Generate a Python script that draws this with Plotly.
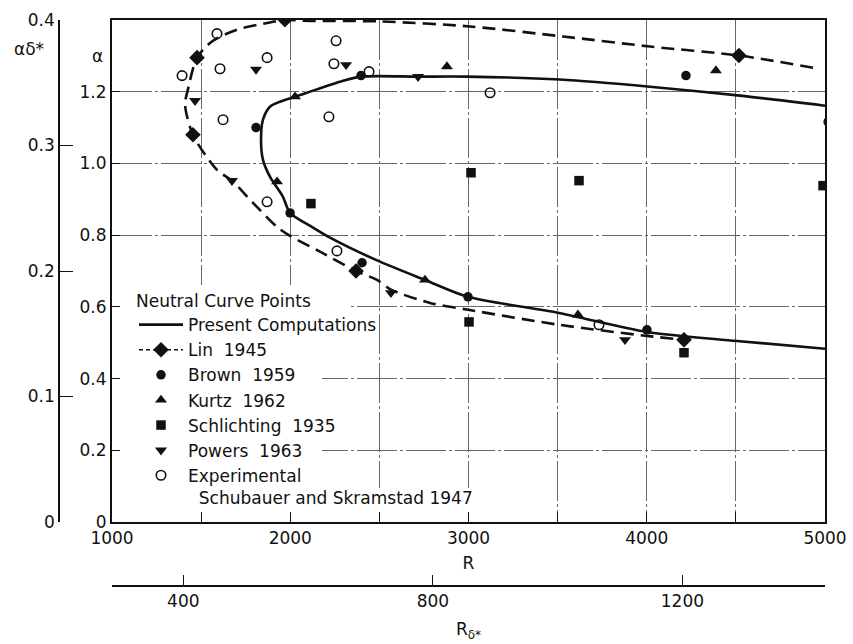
import plotly.graph_objects as go

# Ratio between the two Reynolds numbers / wavenumbers: R = 3.5 * R_delta*, alpha = 3.5 * alpha*delta*
SCALE = 3.5

# ---- Neutral curve, present computations (R, alpha), traced around the nose ----
present_R = [5000, 4506, 4001, 3508, 2997, 2756, 2503, 2223, 2128, 1999, 1959, 1886, 1847,
             1836, 1847, 1886, 1942, 2027, 2279, 2397, 2717, 2992, 3513, 4018, 4523, 5000]
present_alpha = [0.483, 0.505, 0.530, 0.583, 0.628, 0.675, 0.726, 0.793, 0.821, 0.862, 0.907,
                 0.963, 1.010, 1.066, 1.122, 1.158, 1.172, 1.186, 1.228, 1.242, 1.242, 1.242,
                 1.234, 1.214, 1.189, 1.161]

# ---- Lin (1945) neutral curve ----
lin_curve_R = [4933, 4517, 4018, 3530, 3008, 2503, 2066, 1970, 1886, 1701, 1561, 1477, 1426,
               1410, 1454, 1589, 1673, 1791, 1926, 1999, 2167, 2369, 2487, 2565, 2784, 2997,
               3508, 4001, 4209]
lin_curve_alpha = [1.267, 1.301, 1.326, 1.354, 1.382, 1.396, 1.398, 1.401, 1.393, 1.373, 1.340,
                   1.295, 1.206, 1.164, 1.080, 0.982, 0.952, 0.890, 0.823, 0.798, 0.754, 0.700,
                   0.675, 0.648, 0.611, 0.592, 0.550, 0.519, 0.508]
lin_R = [1970, 1477, 1454, 2369, 4209, 4517]
lin_alpha = [1.401, 1.295, 1.080, 0.700, 0.508, 1.301]

# ---- other neutral points ----
brown_R = [1808, 1999, 2397, 4220, 2403, 2997, 4001]
brown_alpha = [1.100, 0.862, 1.245, 1.245, 0.723, 0.628, 0.536]

kurtz_R = [1926, 2027, 2879, 4388, 2756, 3614]
kurtz_alpha = [0.949, 1.186, 1.270, 1.259, 0.675, 0.578]

schlichting_R = [2116, 3014, 3620, 4989, 3003, 4209]
schlichting_alpha = [0.888, 0.974, 0.952, 0.938, 0.558, 0.472]

powers_R = [1808, 1466, 1673, 2313, 2717, 2565, 3878]
powers_alpha = [1.262, 1.175, 0.952, 1.275, 1.242, 0.639, 0.508]

schubauer_R = [1589, 1393, 1606, 1870, 1623, 1870, 2257, 2245, 2442, 3121, 2217, 2262, 5022, 3732]
schubauer_alpha = [1.362, 1.245, 1.264, 1.295, 1.122, 0.893, 1.342, 1.278, 1.256, 1.197, 1.130,
                   0.756, 1.116, 0.550]

# ---- axes ----
R_ticks = [1000, 1500, 2000, 2500, 3000, 3500, 4000, 4500, 5000]
R_ticklabels = ["1000", "", "2000", "", "3000", "", "4000", "", "5000"]
alpha_ticks = [0, 0.2, 0.4, 0.6, 0.8, 1.0, 1.2]
alpha_ticklabels = ["0", "0.2", "0.4", "0.6", "0.8", "1.0", "1.2"]
ad_ticks = [0, 0.1, 0.2, 0.3, 0.4]
ad_ticklabels = ["0", "0.1", "0.2", "0.3", "0.4"]
rd_ticks = [400, 800, 1200]
R_range = [1000, 5000]
alpha_range = [0, 1.4]

FONT = "DejaVu Sans"
BLACK = "#111111"

fig = go.Figure()

fig.add_trace(go.Scatter(
    x=present_R, y=present_alpha, mode="lines", name="Present Computations",
    line=dict(color=BLACK, width=2.6, shape="spline", smoothing=0.8)))

fig.add_trace(go.Scatter(
    x=lin_curve_R, y=lin_curve_alpha, mode="lines", showlegend=False, legendgroup="lin",
    line=dict(color=BLACK, width=2.6, dash="13px,7px", shape="spline", smoothing=0.8)))
fig.add_trace(go.Scatter(
    x=lin_R, y=lin_alpha, mode="markers", showlegend=False, legendgroup="lin",
    marker=dict(symbol="diamond", size=12, color=BLACK)))
# legend entry for Lin (dashed line with diamond)
fig.add_trace(go.Scatter(
    x=[None], y=[None], mode="lines+markers", name="Lin  1945", legendgroup="lin",
    line=dict(color=BLACK, width=1.5, dash="4px,3px"),
    marker=dict(symbol="diamond", size=12, color=BLACK)))

fig.add_trace(go.Scatter(
    x=brown_R, y=brown_alpha, mode="markers", name="Brown  1959",
    marker=dict(symbol="circle", size=9.5, color=BLACK)))
fig.add_trace(go.Scatter(
    x=kurtz_R, y=kurtz_alpha, mode="markers", name="Kurtz  1962",
    marker=dict(symbol="triangle-up", size=10.5, color=BLACK)))
fig.add_trace(go.Scatter(
    x=schlichting_R, y=schlichting_alpha, mode="markers", name="Schlichting  1935",
    marker=dict(symbol="square", size=9.5, color=BLACK)))
fig.add_trace(go.Scatter(
    x=powers_R, y=powers_alpha, mode="markers", name="Powers  1963",
    marker=dict(symbol="triangle-down", size=10.5, color=BLACK)))
fig.add_trace(go.Scatter(
    x=schubauer_R, y=schubauer_alpha, mode="markers",
    name="Experimental<br>\u00a0\u00a0Schubauer and Skramstad 1947",
    marker=dict(symbol="circle-open", size=9.5, color=BLACK, line=dict(width=1.6, color=BLACK))))

# secondary scales: R_delta* along the bottom and alpha*delta* on the far left
fig.add_trace(go.Scatter(
    x=[R_range[0] / SCALE, R_range[1] / SCALE], y=[alpha_range[0] / SCALE, alpha_range[1] / SCALE],
    xaxis="x2", yaxis="y2", mode="markers", marker=dict(opacity=0), showlegend=False,
    hoverinfo="skip"))

W, H = 853, 644
ML, MR, MT, MB = 59, 28, 20, 58
pw = W - ML - MR
ph = H - MT - MB
FRAME_L, FRAME_R, FRAME_T, FRAME_B = 112, 825, 20, 522
x_dom0 = (FRAME_L - ML) / pw
y_dom0 = (586 - FRAME_B) / ph  # inner frame sits above the R_delta* scale


def px(x):
    return (x - ML) / pw


def py(y):
    return (H - MB - y) / ph


def to_R(x):
    # pixel column -> R on the inner axis
    return R_range[0] + (x - FRAME_L) * (R_range[1] - R_range[0]) / (FRAME_R - FRAME_L)


def to_alpha(y):
    # pixel row -> alpha on the inner axis
    return alpha_range[0] + (FRAME_B - y) * (alpha_range[1] - alpha_range[0]) / (FRAME_B - FRAME_T)


# white patches behind the legend text so the grid does not run through it
legend_masks = [(114, 285, 350, 314), (114, 314, 345, 342), (114, 342, 322, 490),
                (114, 488, 500, 513)]
shapes = [dict(type="rect", xref="x", yref="y", layer="between",
               x0=to_R(a), x1=to_R(c), y0=to_alpha(d), y1=to_alpha(b),
               fillcolor="white", line=dict(width=0))
          for a, b, c, d in legend_masks]

grid = dict(showgrid=True, gridcolor="#666666", gridwidth=1, griddash="40px,3px,3px,3px")

fig.update_layout(
    width=W, height=H,
    margin=dict(l=ML, r=MR, t=MT, b=MB, pad=0, autoexpand=False),
    paper_bgcolor="white", plot_bgcolor="white",
    font=dict(family=FONT, size=17, color=BLACK),
    xaxis=dict(
        domain=[x_dom0, 1], range=R_range, anchor="y", automargin=False,
        tickmode="array", tickvals=R_ticks, ticktext=R_ticklabels,
        ticks="inside", ticklen=10, tickwidth=1.2, tickcolor=BLACK,
        showline=True, linecolor=BLACK, linewidth=2, mirror=True,
        zeroline=False, tickfont=dict(size=17),
        title=dict(text="R", standoff=10, font=dict(size=17)), **grid),
    yaxis=dict(
        domain=[y_dom0, 1], range=alpha_range, anchor="x", automargin=False,
        tickmode="array", tickvals=alpha_ticks, ticktext=alpha_ticklabels,
        ticks="inside", ticklen=8, tickwidth=1.2, tickcolor=BLACK,
        showline=True, linecolor=BLACK, linewidth=2, mirror=True,
        zeroline=False, tickfont=dict(size=17), **grid),
    xaxis2=dict(
        domain=[x_dom0, 1], range=[R_range[0] / SCALE, R_range[1] / SCALE],
        overlaying="x", anchor="free", position=0, side="bottom", automargin=False,
        tickmode="array", tickvals=rd_ticks, ticktext=[str(v) for v in rd_ticks],
        ticks="inside", ticklen=10, tickwidth=1.2, tickcolor=BLACK,
        showline=True, linecolor=BLACK, linewidth=1.6, showgrid=False, zeroline=False,
        tickfont=dict(size=17),
        title=dict(text="R<sub>δ*</sub>", standoff=12, font=dict(size=17))),
    yaxis2=dict(
        domain=[y_dom0, 1], range=[alpha_range[0] / SCALE, alpha_range[1] / SCALE],
        overlaying="y", anchor="free", position=0, side="left", automargin=False,
        tickmode="array", tickvals=ad_ticks, ticktext=ad_ticklabels,
        ticks="inside", ticklen=13, tickwidth=1.2, tickcolor=BLACK,
        showline=True, linecolor=BLACK, linewidth=1.6, showgrid=False, zeroline=False,
        tickfont=dict(size=17)),
    legend=dict(
        x=px(134), y=py(285), xanchor="left", yanchor="top",
        bgcolor="rgba(255,255,255,0)", borderwidth=0, valign="top",
        font=dict(family=FONT, size=17, color=BLACK),
        title=dict(text="Neutral Curve Points", font=dict(family=FONT, size=17, color=BLACK)),
        itemwidth=44, tracegroupgap=0),
    shapes=shapes,
    annotations=[
        dict(text="α", xref="paper", yref="y", x=px(97), y=1.30,
             showarrow=False, font=dict(size=17), xanchor="center", yanchor="middle"),
        dict(text="αδ*", xref="paper", yref="y", x=px(29), y=1.32,
             showarrow=False, font=dict(size=17), xanchor="center", yanchor="middle"),
    ],
)

fig.write_html("out.html")
